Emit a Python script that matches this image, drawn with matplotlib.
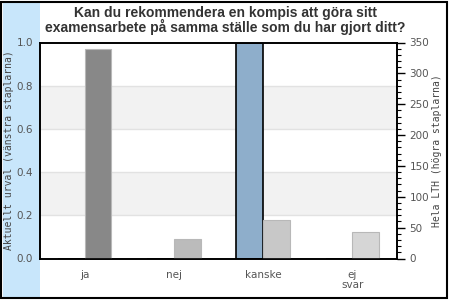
import matplotlib
matplotlib.use('Agg')
import matplotlib.pyplot as plt
from matplotlib.patches import Rectangle
from matplotlib.ticker import MultipleLocator
import numpy as np

# data
categories = ['ja', 'nej', 'kanske', 'ej\nsvar']
current = [0.0, 0.0, 1.0, 0.0]          # left axis (share)
lth_total = [340, 32, 62, 43]           # right axis (count)
lth_colors = ['#888888', '#bbbbbb', '#c8c8c8', '#d6d6d6']
current_color = '#8eaecb'

W, H = 450, 300
fig = plt.figure(figsize=(W / 100, H / 100), dpi=100)

# light blue strip on the left + black frame
fig.patches.append(Rectangle((3 / W, 3 / H), 37 / W, 294 / H, transform=fig.transFigure,
                             facecolor='#c8e6fb', edgecolor='none', zorder=-2))
fig.patches.append(Rectangle((1 / W, 2 / H), 446 / W, 296 / H, transform=fig.transFigure,
                             facecolor='none', edgecolor='black', lw=1.5, zorder=-1))

ax = fig.add_axes([40 / W, (H - 258.5) / H, 357 / W, 216 / H])
ax2 = ax.twinx()

x = np.arange(len(categories))
bw = 0.3

# shaded bands and grid lines
for lo, hi in [(0.2, 0.4), (0.6, 0.8)]:
    ax.axhspan(lo, hi, color='#f2f2f2', zorder=0, lw=0)
for yv in [0.2, 0.4, 0.6, 0.8]:
    ax.axhline(yv, color='#e2e2e2', lw=1, zorder=0.5)

ax.bar(x - bw / 2, current, width=bw, color=current_color, edgecolor='black', lw=1.2, zorder=2)
ax2.bar(x + bw / 2, lth_total, width=bw, color=lth_colors, edgecolor='#b8b8b8', lw=0.8, zorder=2)

ax.set_xlim(-0.5, len(categories) - 0.5)
ax.set_ylim(0, 1.0)
ax2.set_ylim(0, 350)

ax.set_yticks([0, 0.2, 0.4, 0.6, 0.8, 1.0])
ax.set_yticklabels(['0.0', '0.2', '0.4', '0.6', '0.8', '1.0'])
ax.tick_params(axis='y', length=0, pad=5, labelsize=7.5, labelcolor='#555555')
ax.set_xticks(x)
ax.set_xticklabels(categories, fontsize=7.5, color='#555555', linespacing=1.1)
ax.tick_params(axis='x', length=0, pad=8)

ax2.yaxis.set_major_locator(MultipleLocator(50))
ax2.yaxis.set_minor_locator(MultipleLocator(10))
ax2.tick_params(axis='y', which='major', length=6, width=1, pad=3, labelsize=7.5, labelcolor='#555555')
ax2.tick_params(axis='y', which='minor', length=3, width=0.8)

for a in (ax, ax2):
    for s in a.spines.values():
        s.set_color('black')
        s.set_linewidth(1.2)

ax.set_ylabel('Aktuellt urval (vänstra staplarna)', family='DejaVu Sans Mono',
              fontsize=7, color='#444444')
ax2.set_ylabel('Hela LTH (högra staplarna)', family='DejaVu Sans Mono',
               fontsize=7, color='#444444', labelpad=2)
ax.yaxis.set_label_coords(-26 / 357, 0.5)

fig.text(0.5, 1 - 20.5 / H, 'Kan du rekommendera en kompis att göra sitt\nexamensarbete på samma ställe som du har gjort ditt?',
         ha='center', va='center', fontsize=10, fontweight='bold', color='#333333',
         family='Liberation Sans', linespacing=0.92)

fig.savefig('out.png', dpi=100)
